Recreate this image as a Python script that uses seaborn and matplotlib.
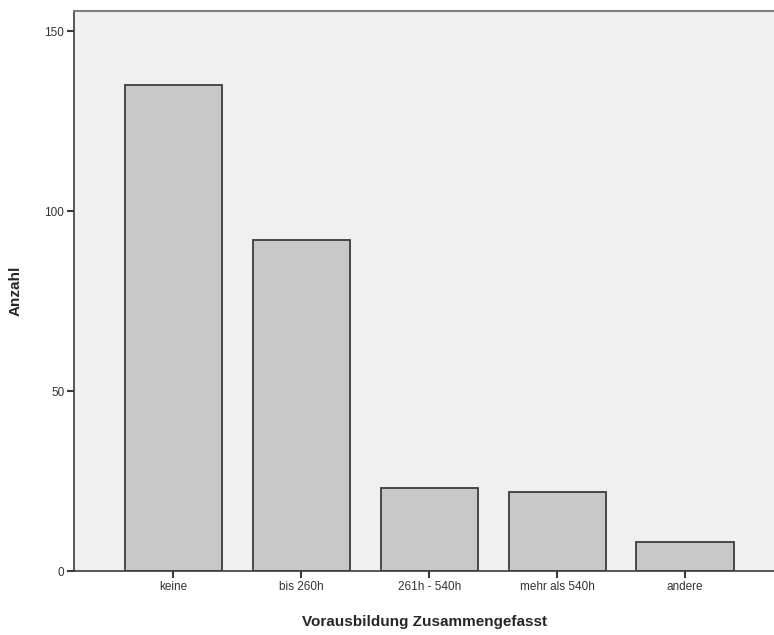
import matplotlib
matplotlib.use('Agg')
import matplotlib.pyplot as plt
import seaborn as sns
import pandas as pd

# Data
categories = ['keine', 'bis 260h', '261h - 540h', 'mehr als 540h', 'andere']
counts = [135, 92, 23, 22, 8]

df = pd.DataFrame({'kategorie': categories, 'anzahl': counts})

sns.set_style('white')
plt.rcParams['font.family'] = ['Liberation Sans', 'DejaVu Sans']

fig = plt.figure(figsize=(7.74, 6.35), dpi=100)
ax = fig.add_axes([74 / 774, 64 / 635, 700 / 774, 560 / 635])
ax.set_facecolor('#F0F0F0')

sns.barplot(data=df, x='kategorie', y='anzahl', color='#C8C8C8',
            edgecolor='#3C3C3C', linewidth=1.3, width=0.76,
            saturation=1, ax=ax)

ax.set_ylim(0, 155.6)
ax.set_xlim(-0.777, 4.695)
ax.set_yticks([0, 50, 100, 150])

for side in ['left', 'bottom']:
    ax.spines[side].set_color('#3C3C3C')
    ax.spines[side].set_linewidth(1.2)
ax.spines['top'].set_color('#808080')
ax.spines['top'].set_linewidth(1.5)
ax.spines['right'].set_visible(False)

ax.tick_params(axis='both', bottom=True, left=True, direction='out',
               length=5, width=1.5, color='#3C3C3C', labelsize=8.5,
               labelcolor='#333333', pad=2)

ax.set_xlabel('Vorausbildung Zusammengefasst', fontsize=11, fontweight='bold',
              labelpad=16)
ax.set_ylabel('Anzahl', fontsize=11, fontweight='bold', labelpad=22)
ax.yaxis.set_label_coords(-0.074, 0.5)

fig.savefig('out.png', dpi=100)
plt.close()
